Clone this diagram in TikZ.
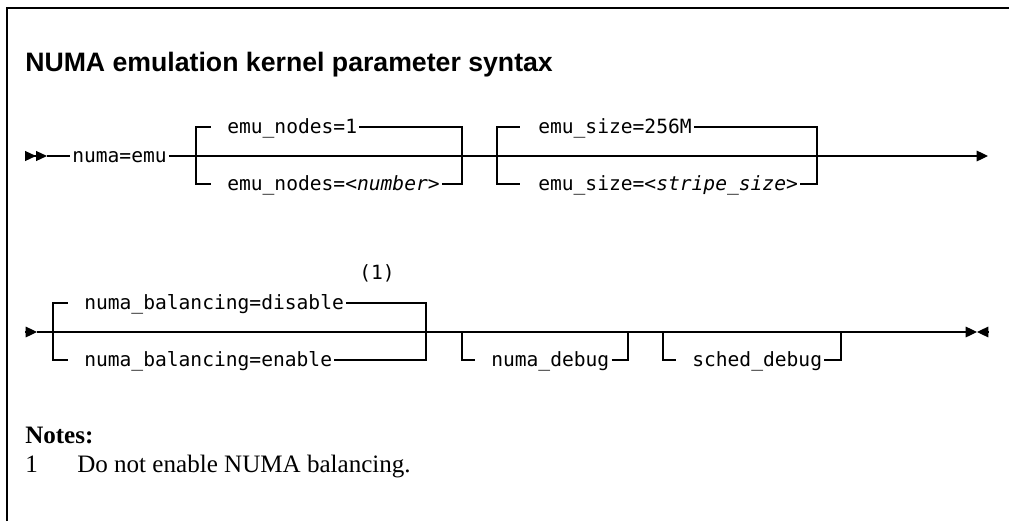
\documentclass[tikz,border=0pt]{standalone}
\usepackage{fontspec}
\setmainfont{Liberation Serif}
\setsansfont{Liberation Sans}
\setmonofont{DejaVu Sans Mono}
\usetikzlibrary{arrows.meta}

\begin{document}
\begin{tikzpicture}[x=0.75pt,y=-0.75pt,
 rail/.style={line width=0.9pt},
 frame/.style={line width=1.5pt},
 kw/.style={font=\fontsize{14.7}{17}\selectfont\ttfamily,inner xsep=1.5pt,inner ysep=0pt,
 text height=9.8pt,text depth=0pt,anchor=west},
 plain/.style={anchor=base west,inner sep=0pt,font=\fontsize{18.8}{22}\selectfont},
 tip/.style={-{Triangle[length=8.5pt,width=8pt]}},
 tiptwo/.style={-{Triangle[length=8.25pt,width=7.5pt]Triangle[length=8.25pt,width=7.5pt]}}]
\useasboundingbox (0,0) rectangle (1009,521);
\draw[frame] (7,521) -- (7,7.5) -- (1009,7.5);
\node[plain,font=\fontsize{20}{24}\selectfont\sffamily\bfseries] (title) at (25,71)
 {NUMA emulation kernel parameter syntax};

\coordinate (s1) at (25,156);
\coordinate (t1) at (47,156);
\coordinate (j1a) at (196,156);
\coordinate (j1b) at (462,156);
\coordinate (j2a) at (497,156);
\coordinate (j2b) at (817,156);
\coordinate (e1) at (988,156);
\node[kw] (emu) at (70,156) {numa=emu};
\node[kw] (nod1) at (225,127) {emu\_nodes=1};
\node[kw] (nodn) at (225,184) {emu\_nodes=<\textit{number}>};
\node[kw] (siz1) at (536,127) {emu\_size=256M};
\node[kw] (sizn) at (536,184) {emu\_size=<\textit{stripe\_size}>};
\draw[rail,tiptwo] (s1) -- (t1);
\draw[rail] (t1) -- (emu.west);
\draw[rail,tip] (emu.east) -- (j1a) -- (j1b) -- (j2a) -- (j2b) -- (e1);
\draw[rail] (j1a) |- ([xshift=-10.5pt]nod1.west);
\draw[rail] (nod1.east) -| (j1b);
\draw[rail] (j1a) |- ([xshift=-10.5pt]nodn.west);
\draw[rail] (nodn.east) -| (j1b);
\draw[rail] (j2a) |- ([xshift=-12pt]siz1.west);
\draw[rail] (siz1.east) -| (j2b);
\draw[rail] (j2a) |- ([xshift=-12pt]sizn.west);
\draw[rail] (sizn.east) -| (j2b);

\coordinate (s2) at (25,332);
\coordinate (t2) at (37,332);
\coordinate (k1a) at (53,332);
\coordinate (k1b) at (426,332);
\coordinate (k2a) at (462,332);
\coordinate (k2b) at (628,332);
\coordinate (k3a) at (663,332);
\coordinate (k3b) at (841,332);
\coordinate (e2) at (977,332);
\coordinate (e3) at (988,332);
\node[kw] (bdis) at (82,303) {numa\_balancing=disable};
\node[kw] (ben) at (82,360) {numa\_balancing=enable};
\node[kw,anchor=center,text height=11pt,text depth=3pt] (fn) at (377,274) {(1)};
\node[kw] (ndbg) at (489,360) {numa\_debug};
\node[kw] (sdbg) at (690,360) {sched\_debug};
\draw[rail,tip] (s2) -- (t2);
\draw[rail,tip] (t2) -- (k1a) -- (k1b) -- (k2a) -- (k2b) -- (k3a) -- (k3b) -- (e2);
\draw[rail,tip] (e3) -- (e2);
\draw[rail] (k1a) |- ([xshift=-10.5pt]bdis.west);
\draw[rail] (bdis.east) -| (k1b);
\draw[rail] (k1a) |- ([xshift=-10.5pt]ben.west);
\draw[rail] (ben.east) -| (k1b);
\draw[rail] (k2a) |- ([xshift=-10.5pt]ndbg.west);
\draw[rail] (ndbg.east) -| (k2b);
\draw[rail] (k3a) |- ([xshift=-10.5pt]sdbg.west);
\draw[rail] (sdbg.east) -| (k3b);

\node[plain,font=\fontsize{18.8}{22}\selectfont\bfseries] (notes) at (25,443) {Notes:};
\node[plain] (num1) at (25,472) {1};
\node[plain] (note1) at (77,472) {Do not enable NUMA balancing.};
\end{tikzpicture}
\end{document}
